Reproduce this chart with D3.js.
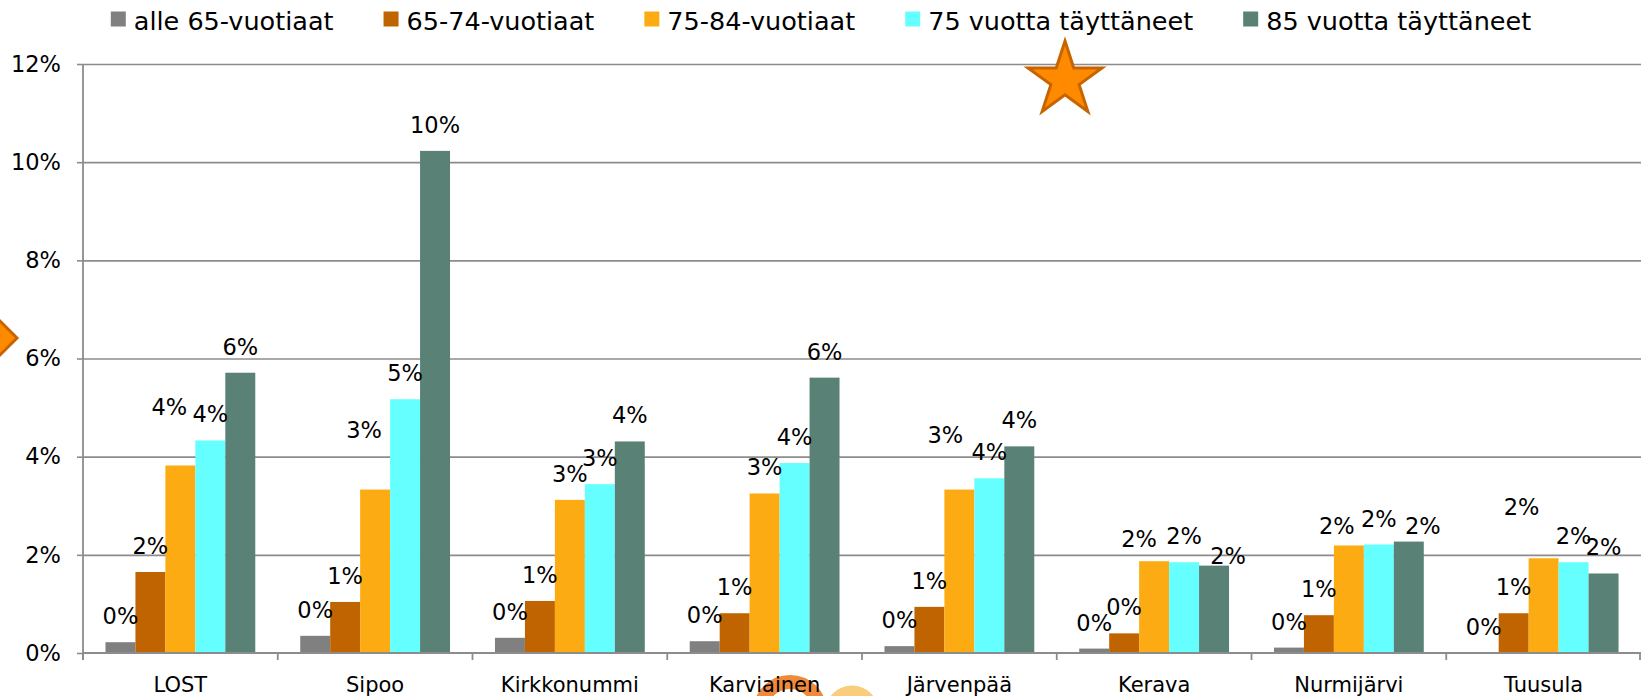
<!DOCTYPE html>
<html>
<head>
<meta charset="utf-8">
<script src="https://cdn.jsdelivr.net/npm/d3@7"></script>
<style>
  html, body { margin: 0; padding: 0; background: #fff; }
  svg { display: block; }
  text { font-family: "DejaVu Sans", sans-serif; fill: #000; }
</style>
</head>
<body>
<svg id="chart" width="1642" height="696"></svg>
<script>
// ---- data ----
const categories = ["LOST", "Sipoo", "Kirkkonummi", "Karviainen", "Järvenpää", "Kerava", "Nurmijärvi", "Tuusula"];
const seriesNames = ["alle 65-vuotiaat", "65-74-vuotiaat", "75-84-vuotiaat", "75 vuotta täyttäneet", "85 vuotta täyttäneet"];
const under65   = [0.0022, 0.0035, 0.0031, 0.0024, 0.0014, 0.0009, 0.0011, 0.0000];
const age65to74 = [0.0165, 0.0104, 0.0106, 0.0081, 0.0094, 0.0040, 0.0077, 0.0081];
const age75to84 = [0.0382, 0.0333, 0.0312, 0.0325, 0.0333, 0.0187, 0.0219, 0.0193];
const age75plus = [0.0433, 0.0517, 0.0344, 0.0387, 0.0356, 0.0185, 0.0221, 0.0185];
const age85plus = [0.0571, 0.1023, 0.0431, 0.0561, 0.0421, 0.0178, 0.0227, 0.0162];
const yTickValues = [0, 0.02, 0.04, 0.06, 0.08, 0.10, 0.12];

// label nudges (manually moved labels in the original): [category, series index, dx, dy]
const labelNudges = [
  ["LOST", 2, -11, -33],
  ["Sipoo", 2, -11, -34],
  ["Järvenpää", 2, -14, -29],
  ["Kerava", 2, -15, 4],
  ["Kerava", 4, 14, 16],
  ["Nurmijärvi", 2, -12, 6],
  ["Nurmijärvi", 4, 14, 10],
  ["Tuusula", 2, -22, -25]
];

// ---- styles ----
const seriesColors = ["#808080", "#BF6400", "#FDAB12", "#66FFFF", "#598176"];
const gridColor = "#8c8c8c";

const seriesValues = [under65, age65to74, age75to84, age75plus, age85plus];
const rows = categories.map((c, i) => ({
  cat: c,
  vals: seriesValues.map((arr, s) => ({ s, cat: c, v: arr[i] }))
}));

const svg = d3.select("#chart");
const W = 1642, H = 696;
const margin = { left: 83, right: 1, top: 64, bottom: 43 };

svg.append("rect").attr("width", W).attr("height", H).attr("fill", "#fff");

const x0 = d3.scaleBand().domain(categories).range([margin.left, W - margin.right]).paddingInner(0).paddingOuter(0);
const x1 = d3.scaleBand().domain(d3.range(seriesNames.length)).range([0, x0.bandwidth()]).paddingInner(0).paddingOuter(0.75);
const y = d3.scaleLinear().domain([0, 0.12]).range([H - margin.bottom, margin.top]);

const fmt = d3.format(".0%");

// decorations behind chart
const deco = svg.append("g");
deco.append("circle").attr("cx", 790).attr("cy", 712).attr("r", 30)
  .attr("fill", "none").attr("stroke", "#F08A3A").attr("stroke-width", 14);
deco.append("circle").attr("cx", 852).attr("cy", 712).attr("r", 21)
  .attr("fill", "none").attr("stroke", "#F9CD7C").attr("stroke-width", 11);
deco.append("path")
  .attr("d", "M17,338 L-5,316 L-27,338 L-5,360 Z")
  .attr("fill", "#FF8A00").attr("stroke", "#C86400").attr("stroke-width", 3);

// gridlines
const grid = svg.append("g").attr("transform", `translate(${margin.left},0)`)
  .call(d3.axisLeft(y).tickValues(yTickValues.filter(v => v > 0)).tickSize(-(W - margin.right - margin.left)).tickFormat(""));
grid.select(".domain").remove();
grid.selectAll("line").attr("stroke", gridColor).attr("stroke-width", 1.6);

// y axis
const yAxis = svg.append("g").attr("transform", `translate(${margin.left},0)`)
  .call(d3.axisLeft(y).tickValues(yTickValues).tickFormat(fmt).tickSize(6).tickPadding(16));
yAxis.select(".domain").remove();
yAxis.selectAll("line").attr("stroke", gridColor).attr("stroke-width", 1.6);
yAxis.selectAll("text").attr("font-size", 22.5).attr("font-family", "DejaVu Sans").attr("fill", "#000");
svg.append("line").attr("x1", margin.left).attr("x2", margin.left)
  .attr("y1", y(0.12)).attr("y2", y(0) + 7).attr("stroke", gridColor).attr("stroke-width", 1.8);

// bars
const groups = svg.append("g").selectAll("g").data(rows).join("g")
  .attr("transform", d => `translate(${x0(d.cat)},0)`);
groups.selectAll("rect").data(d => d.vals).join("rect")
  .attr("x", d => x1(d.s))
  .attr("width", x1.bandwidth())
  .attr("y", d => y(d.v))
  .attr("height", d => y(0) - y(d.v))
  .attr("fill", d => seriesColors[d.s]);

// x axis line + category boundary ticks
svg.append("line").attr("x1", margin.left).attr("x2", W - margin.right)
  .attr("y1", y(0)).attr("y2", y(0)).attr("stroke", gridColor).attr("stroke-width", 1.8);
const bounds = categories.map(c => x0(c)).concat([x0.range()[1] - 1]);
svg.append("g").selectAll("line").data(bounds).join("line")
  .attr("x1", d => d).attr("x2", d => d)
  .attr("y1", y(0)).attr("y2", y(0) + 7)
  .attr("stroke", gridColor).attr("stroke-width", 1.8);

// category labels
const xAxis = svg.append("g").attr("transform", `translate(0,${y(0)})`)
  .call(d3.axisBottom(x0).tickSize(0).tickPadding(0));
xAxis.select(".domain").remove();
xAxis.selectAll("text").attr("y", 39).attr("dy", 0)
  .attr("font-size", 21).attr("font-family", "DejaVu Sans").attr("fill", "#000");

// data labels
const nudge = (cat, s) => {
  const n = labelNudges.find(d => d[0] === cat && d[1] === s);
  return n ? [n[2], n[3]] : [0, 0];
};
groups.selectAll("text.lbl").data(d => d.vals).join("text")
  .attr("class", "lbl")
  .attr("x", d => x1(d.s) + x1.bandwidth() / 2 + nudge(d.cat, d.s)[0])
  .attr("y", d => y(d.v) - 18 + nudge(d.cat, d.s)[1])
  .attr("text-anchor", "middle")
  .attr("font-size", 22.5)
  .text(d => fmt(d.v));

// legend
const legend = svg.append("g");
const items = legend.selectAll("g").data(seriesNames).join("g");
items.append("rect").attr("width", 15).attr("height", 15).attr("y", 11.5)
  .attr("fill", (d, i) => seriesColors[i]);
items.append("text").attr("x", 23).attr("y", 30).attr("font-size", 25.5).text(d => d);
let cx = 0;
items.each(function () {
  const g = d3.select(this);
  g.attr("transform", `translate(${cx},0)`);
  cx += 23 + g.select("text").node().getComputedTextLength() + 50;
});
const totalW = cx - 50;
legend.attr("transform", `translate(${(W - totalW) / 2},0)`);

// star decoration
svg.append("path")
  .attr("d", d3.symbol(d3.symbolStar, 1700)())
  .attr("transform", "translate(1065,80)")
  .attr("fill", "#FF8A00").attr("stroke", "#C86400").attr("stroke-width", 3);
</script>
</body>
</html>
